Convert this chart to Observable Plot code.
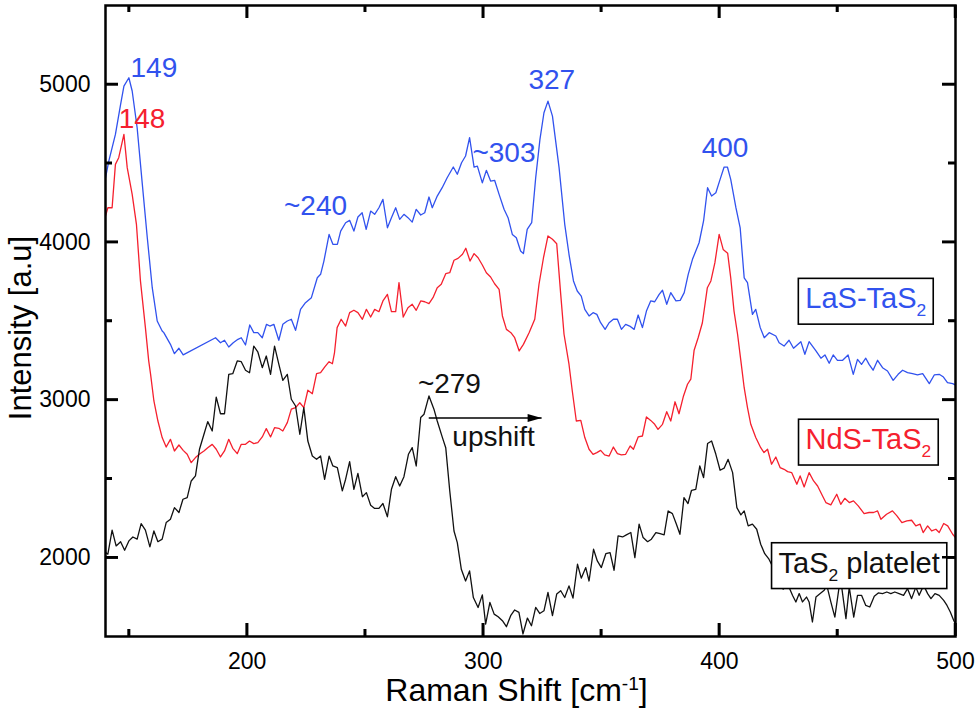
<!DOCTYPE html>
<html>
<head>
<meta charset="utf-8">
<script src="https://cdn.jsdelivr.net/npm/d3@7"></script>
<script src="https://cdn.jsdelivr.net/npm/@observablehq/plot@0.6"></script>
<style>
  html, body { margin: 0; padding: 0; background: #fff; overflow: hidden; }
  #chart svg { display: block; }
</style>
</head>
<body>
<div id="chart"></div>
<script>
// ---------- data: [Raman shift (cm-1), intensity (a.u.)] ----------
const lasTaS2 = [[140,4408],[141.4,4514],[144.2,4683],[146.4,4873],[147.8,4989],[149.9,5042],[151.3,4958],[153.4,4725],[155.6,4366],[157.7,4028],[159.8,3711],[161.9,3500],[164.0,3437],[164.7,3426],[167.5,3352],[169.2,3293],[171.1,3327],[172.9,3285],[186.6,3394],[188.7,3362],[190.4,3378],[192.2,3335],[194.1,3362],[196.1,3384],[197.5,3394],[199.3,3348],[201.1,3475],[202.8,3426],[204.5,3426],[206.4,3394],[208.2,3479],[209.6,3468],[211.3,3479],[213.4,3378],[215.1,3479],[217.0,3500],[218.7,3511],[220.5,3441],[222.6,3574],[224.7,3616],[227.2,3648],[229.7,3774],[231.1,3796],[232.5,3880],[234.7,4049],[236.3,3986],[238.2,3986],[239.6,4070],[241.7,4123],[243.4,4138],[245.2,4070],[246.9,4159],[248.7,4186],[250.4,4081],[252.3,4197],[254.0,4176],[255.8,4218],[257.5,4271],[259.4,4091],[261.1,4155],[262.9,4218],[264.6,4144],[266.4,4176],[268.1,4155],[269.9,4127],[271.6,4208],[273.5,4172],[275.2,4186],[277.0,4286],[278.4,4218],[280.5,4292],[282.6,4345],[284.7,4408],[287.3,4476],[289.0,4430],[290.8,4503],[292.5,4546],[294.2,4662],[296.1,4476],[297.5,4482],[299.6,4376],[301.3,4455],[303.1,4387],[304.8,4392],[306.7,4303],[308.8,4208],[310.5,4155],[312.3,4049],[314.0,4028],[315.8,3944],[317.0,3927],[318.6,4081],[320.5,4123],[322.2,4408],[324.0,4651],[325.7,4820],[327.4,4894],[329.3,4799],[332.1,4472],[334.5,4113],[336.3,3923],[338.2,3754],[339.8,3690],[341.5,3658],[343.0,3574],[344.8,3532],[346.5,3553],[348.1,3542],[349.7,3489],[351.6,3447],[353.3,3489],[355.1,3511],[356.8,3511],[358.5,3447],[360.3,3479],[362.0,3468],[363.9,3447],[365.6,3538],[367.4,3458],[369.1,3563],[370.9,3627],[372.6,3622],[374.5,3669],[375.9,3695],[377.7,3606],[379.4,3680],[381.6,3627],[383.4,3631],[385.1,3680],[386.8,3796],[388.6,3891],[391.4,3996],[393.3,4134],[395.0,4345],[396.7,4292],[398.5,4313],[400.3,4398],[402.0,4476],[403.4,4476],[404.8,4398],[407.0,4218],[408.8,4091],[410.5,3774],[411.9,3743],[414.0,3542],[415.4,3574],[417.3,3458],[419.0,3394],[421.1,3426],[423.9,3405],[425.3,3362],[427.4,3341],[429.5,3378],[431.4,3327],[434.5,3369],[436.2,3289],[438.0,3369],[440.9,3310],[443.0,3264],[444.7,3285],[446.5,3232],[448.2,3285],[450.0,3251],[452.2,3251],[454.5,3285],[456.7,3162],[458.5,3257],[460.2,3225],[462.0,3264],[463.4,3225],[465.1,3188],[467.0,3251],[469.1,3204],[471.2,3183],[473.6,3124],[475.7,3162],[477.6,3188],[479.7,3173],[481.8,3166],[483.9,3158],[486.1,3166],[488.9,3103],[491.0,3158],[493.1,3162],[494.9,3145],[496.6,3109],[498.8,3103],[500,3094]];

const ndsTaS2 = [[140,4165],[141,4218],[142.8,4218],[144.2,4493],[145.6,4535],[147.8,4683],[149.2,4472],[151.3,4303],[153.1,4113],[154.8,3754],[156.9,3458],[158.3,3247],[159.1,3162],[160.5,2993],[162.2,2866],[164.0,2761],[165.7,2701],[167.5,2750],[169.2,2676],[171.1,2714],[172.9,2680],[174.6,2655],[176.3,2602],[178.1,2634],[180.0,2659],[181.7,2676],[183.3,2697],[185.2,2718],[186.9,2687],[188.7,2638],[190.4,2676],[192.2,2750],[193.9,2693],[195.8,2659],[197.5,2718],[199.3,2718],[201.0,2739],[202.8,2723],[204.5,2729],[206.4,2765],[208.1,2818],[209.9,2765],[211.6,2824],[213.4,2820],[215.1,2803],[217.0,2856],[218.7,2941],[220.5,2951],[222.3,2982],[224.0,2951],[225.7,3061],[227.6,3039],[229.4,3166],[231.1,3172],[232.8,3208],[234.7,3242],[236.1,3229],[237.0,3300],[238.1,3458],[239.8,3511],[241.7,3468],[243.4,3553],[245.2,3568],[246.9,3553],[248.8,3511],[250.5,3574],[252.3,3525],[254.0,3574],[255.8,3559],[257.5,3627],[259.4,3669],[261.1,3559],[262.9,3559],[264.3,3743],[266.1,3525],[268.1,3584],[269.9,3606],[271.6,3568],[273.5,3627],[275.2,3622],[277.0,3610],[278.7,3648],[280.5,3711],[282.2,3733],[284.1,3800],[285.8,3806],[287.6,3885],[289.3,3897],[291.2,3923],[292.6,3961],[294.4,3880],[296.1,3927],[297.8,3901],[299.6,3855],[301.3,3806],[303.1,3779],[304.8,3736],[306.7,3701],[308.1,3532],[309.8,3447],[311.7,3426],[313.3,3394],[315.2,3310],[317.0,3352],[319.4,3426],[321.8,3511],[323.6,3733],[325.5,3901],[327.4,4039],[329.3,4018],[331.1,3990],[332.8,3669],[334.2,3416],[336.3,3226],[337.7,3056],[339.4,2866],[341.3,2870],[343.0,2761],[344.8,2687],[346.5,2655],[348.1,2666],[349.7,2680],[351.4,2651],[353.3,2644],[355.1,2701],[356.8,2659],[358.5,2651],[360.3,2655],[362.2,2708],[363.6,2687],[365.6,2765],[367.4,2771],[369.1,2892],[370.9,2870],[372.6,2845],[374.0,2813],[375.9,2845],[377.7,2925],[379.4,2866],[381.2,2988],[382.9,2912],[384.8,3025],[386.5,3099],[387.9,3131],[389.3,3315],[391.0,3394],[392.8,3489],[394.9,3711],[396.4,3754],[398.1,3870],[399.9,4049],[401.6,3954],[403.5,3930],[404.8,3774],[406.2,3563],[407.7,3416],[409.1,3247],[410.5,3077],[411.9,2951],[413.3,2845],[415.4,2761],[417.5,2697],[418.9,2666],[420.4,2687],[422.1,2592],[423.9,2638],[425.7,2571],[427.4,2560],[428.9,2545],[430.6,2539],[432.8,2465],[434.2,2518],[435.9,2448],[438.0,2539],[439.9,2486],[441.6,2454],[443.7,2391],[445.1,2349],[447.2,2334],[449.7,2402],[451.4,2338],[453.1,2376],[455.0,2349],[456.8,2360],[458.8,2328],[461.3,2279],[463.4,2286],[465.3,2286],[467.0,2296],[468.4,2243],[470.8,2275],[473.3,2296],[475.2,2265],[477.3,2222],[479.4,2233],[481.4,2237],[483.2,2201],[485.0,2212],[486.3,2159],[488.2,2201],[489.9,2169],[491.7,2180],[493.1,2159],[495.0,2216],[496.7,2201],[498.8,2148],[500,2127]];

const tas2Platelet = [[140,2032],[141,2022],[142.8,2174],[144.5,2074],[146.4,2101],[148.1,2047],[149.9,2106],[151.6,2131],[153.4,2117],[155.1,2216],[156.9,2174],[158.8,2068],[160.5,2169],[162.2,2101],[164.0,2117],[165.7,2222],[167.5,2243],[169.2,2317],[171.1,2286],[172.8,2370],[174.6,2380],[176.3,2486],[178.1,2518],[179.8,2687],[181.7,2782],[183.3,2862],[185.2,2803],[186.9,3018],[188.7,2912],[190.4,2912],[192.2,3162],[193.9,3166],[195.8,3247],[197.5,3242],[199.3,3188],[201.0,3172],[202.8,3341],[204.5,3305],[206.4,3204],[208.1,3278],[209.9,3162],[211.6,3341],[213.4,3226],[215.1,3124],[217.0,3162],[218.7,3004],[220.5,2961],[222.3,2782],[224.0,2951],[225.7,2739],[227.6,2644],[229.4,2623],[231.1,2644],[232.8,2496],[234.7,2644],[236.3,2581],[238.2,2571],[240.3,2423],[241.7,2497],[243.4,2608],[245.2,2433],[246.9,2534],[248.8,2386],[250.5,2412],[252.3,2332],[254.0,2312],[255.8,2312],[257.5,2343],[259.4,2259],[261.1,2433],[262.9,2513],[264.6,2454],[266.4,2513],[268.3,2655],[269.9,2697],[271.6,2581],[273.5,2888],[274.9,2909],[277.0,3025],[279.1,2941],[280.5,2866],[282.7,2761],[284.1,2697],[285.8,2423],[287.6,2169],[289.0,2095],[290.7,1926],[292.5,1852],[294.2,1916],[295.8,1747],[297.8,1684],[299.6,1764],[301.0,1578],[302.8,1716],[304.6,1642],[306.3,1625],[308.1,1600],[309.8,1562],[311.6,1632],[313.3,1668],[315.1,1653],[316.8,1516],[318.7,1617],[320.4,1568],[322.2,1684],[323.9,1646],[325.7,1663],[327.4,1779],[329.3,1632],[331.1,1769],[332.8,1790],[334.5,1747],[336.3,1821],[338.0,1743],[339.9,1958],[341.5,1870],[343.4,1937],[344.8,1852],[346.7,2053],[348.3,1979],[350.0,1937],[351.9,2025],[353.7,2032],[355.4,1920],[357.1,2138],[359.0,2131],[360.6,2144],[362.5,2159],[364.2,2000],[366.0,2212],[367.7,2127],[369.6,2101],[371.2,2117],[373.1,2159],[374.9,2152],[376.6,2144],[378.3,2296],[380.1,2279],[381.8,2212],[383.3,2148],[385.0,2380],[386.7,2343],[388.2,2427],[390.0,2433],[391.7,2581],[393.3,2507],[395.0,2723],[396.7,2739],[398.5,2655],[400.3,2554],[402.0,2567],[403.7,2623],[405.6,2539],[407.4,2317],[409.1,2271],[410.5,2296],[412.2,2201],[414.0,2212],[415.8,2180],[417.5,2085],[419.2,2025],[421.0,1990],[423.0,1930],[425.0,1860],[427.0,1800],[429.0,1830],[431.0,1760],[432.4,1719],[433.8,1772],[435.2,1719],[436.9,1750],[438.0,1719],[439.4,1592],[440.9,1750],[442.7,1772],[444.4,1793],[445.5,1824],[447.2,1719],[448.9,1623],[450.7,1813],[451.7,1824],[453.6,1613],[455.0,1813],[456.9,1623],[458.5,1761],[460.2,1761],[462.0,1697],[463.7,1687],[465.6,1755],[467.3,1776],[469.1,1772],[470.9,1782],[472.6,1772],[474.3,1782],[476.1,1772],[478.0,1761],[479.7,1803],[481.4,1740],[483.2,1813],[484.6,1761],[486.5,1824],[488.2,1772],[489.6,1740],[491.3,1772],[493.1,1761],[495.0,1729],[496.4,1697],[497.8,1655],[499.3,1600],[500,1579]];

const xMajorTicks = [200, 300, 400, 500];
const xMinorTicks = [150, 250, 350, 450];
const yMajorTicks = [2000, 3000, 4000, 5000];
const yMinorTicks = [2500, 3500, 4500];

// peak labels (text, Raman shift, intensity)
const peakLabels = [
  {label: "149",  x: 150.6, y: 5103, series: "LaS"},
  {label: "148",  x: 145.6, y: 4778, series: "NdS"},
  {label: "~240", x: 215.6, y: 4226, series: "LaS"},
  {label: "~303", x: 295.4, y: 4567, series: "LaS"},
  {label: "327",  x: 319.1, y: 5028, series: "LaS"},
  {label: "400",  x: 392.5, y: 4598, series: "LaS"},
  {label: "~279", x: 272.3, y: 3099, series: "TaS"},
  {label: "upshift", x: 286.9, y: 2762, series: "TaS"}
];
const upshiftArrow = [{x1: 276.9, x2: 324.7, y: 2885}];
const seriesNames = [
  {label: "LaS-TaS_{2}", x: 462, y: 3639, series: "LaS"},
  {label: "NdS-TaS_{2}", x: 463.1, y: 2746, series: "NdS"},
  {label: "TaS_{2} platelet", x: 459.2, y: 1963, series: "TaS"}
];

// ---------- layout & styles ----------
const WIDTH = 978, HEIGHT = 712;
const M = {left: 105, right: 23, top: 5, bottom: 76};
const FW = WIDTH - M.left - M.right, FH = HEIGHT - M.top - M.bottom;
const MAJ = 13, MIN = 7;
const COLORS = {LaS: "#3152ee", NdS: "#f5202e", TaS: "#111111"};
const rows = pts => pts.map(([x, y]) => ({x, y}));
const arrowHead = {draw(ctx) { ctx.moveTo(0, 0); ctx.lineTo(-14, -4); ctx.lineTo(-14, 4); ctx.closePath(); }};

const tickStyle = {stroke: "#000000", strokeWidth: 2.5};
const ticksX = (values, len) => [
  Plot.ruleX(values, {...tickStyle, insetTop: FH - len}),
  Plot.ruleX(values, {...tickStyle, insetBottom: FH - len})
];
const ticksY = (values, len) => [
  Plot.ruleY(values, {...tickStyle, insetRight: FW - len}),
  Plot.ruleY(values, {...tickStyle, insetLeft: FW - len})
];

const chart = Plot.plot({
  width: WIDTH,
  height: HEIGHT,
  marginLeft: M.left,
  marginRight: M.right,
  marginTop: M.top,
  marginBottom: M.bottom,
  style: {fontFamily: "'Liberation Sans', Arial, sans-serif", background: "white", color: "black"},
  x: {domain: [140, 500]},
  y: {domain: [1500, 5500]},
  color: {type: "identity"},
  marks: [
    Plot.line(rows(lasTaS2), {x: "x", y: "y", stroke: COLORS.LaS, strokeWidth: 1.3, clip: true}),
    Plot.line(rows(ndsTaS2), {x: "x", y: "y", stroke: COLORS.NdS, strokeWidth: 1.3, clip: true}),
    Plot.line(rows(tas2Platelet), {x: "x", y: "y", stroke: COLORS.TaS, strokeWidth: 1.3, clip: true}),

    // tick labels
    Plot.axisX({anchor: "bottom", ticks: xMajorTicks, tickSize: 0, tickPadding: 16, fontSize: 23, label: null, tickFormat: d => String(d)}),
    Plot.axisY({anchor: "left", ticks: yMajorTicks, tickSize: 0, tickPadding: 15, fontSize: 23, label: null, tickFormat: d => String(d)}),
    // inward ticks on all four sides
    ...ticksX(xMajorTicks, MAJ),
    ...ticksX(xMinorTicks, MIN),
    ...ticksY(yMajorTicks, MAJ),
    ...ticksY(yMinorTicks, MIN),
    Plot.frame({stroke: "black", strokeWidth: 2.5}),

    Plot.text(peakLabels, {x: "x", y: "y", text: "label", fill: d => COLORS[d.series], textAnchor: "start", lineAnchor: "middle", fontSize: 28}),
    Plot.link(upshiftArrow, {x1: "x1", x2: "x2", y1: "y", y2: "y", stroke: "black", strokeWidth: 1.6}),
    Plot.dot(upshiftArrow, {x: "x2", y: "y", symbol: arrowHead, fill: "black", stroke: "none", r: 5}),

    Plot.text(seriesNames, {x: "x", y: "y", text: "label", fill: d => COLORS[d.series], textAnchor: "middle", lineAnchor: "middle", fontSize: 29}),

    Plot.text(["Raman Shift [cm^{-1}]"], {frameAnchor: "bottom", textAnchor: "middle", dx: -14, dy: 54, fontSize: 32, lineAnchor: "middle"}),
    Plot.text(["Intensity [a.u]"], {frameAnchor: "left", textAnchor: "middle", rotate: -90, dx: -84, dy: 7, fontSize: 31, lineAnchor: "middle"})
  ]
});

document.getElementById("chart").appendChild(chart);
const svgEl = chart.tagName.toLowerCase() === "svg" ? chart : chart.querySelector("svg");

// the same inward ticks again as one explicit path through Plot's scales (drawn on top)
(function drawTicks() {
  const sx = chart.scale("x"), sy = chart.scale("y");
  const left = sx.apply(140), right = sx.apply(500);
  const top = sy.apply(5500), bottom = sy.apply(1500);
  let d = "";
  const addX = (vals, len) => vals.forEach(v => {
    const px = sx.apply(v);
    d += `M${px},${bottom}V${bottom - len}M${px},${top}V${top + len}`;
  });
  const addY = (vals, len) => vals.forEach(v => {
    const py = sy.apply(v);
    d += `M${left},${py}H${left + len}M${right},${py}H${right - len}`;
  });
  addX(xMajorTicks, MAJ); addX(xMinorTicks, MIN);
  addY(yMajorTicks, MAJ); addY(yMinorTicks, MIN);
  d3.select(svgEl).append("path").attr("d", d).attr("fill", "none")
    .attr("stroke", "#000000").attr("stroke-width", 2.5);
})();

// rich text: ^{..} superscript, _{..} subscript
function richify(svg) {
  const out = [];
  svg.querySelectorAll("text").forEach(el => {
    const raw = el.textContent;
    if (!/[\^_]\{/.test(raw)) return;
    const fs = parseFloat(getComputedStyle(el).fontSize) || 20;
    el.textContent = "";
    raw.split(/([\^_]\{[^}]*\})/).forEach(part => {
      if (!part) return;
      const m = part.match(/^([\^_])\{([^}]*)\}$/);
      const ts = document.createElementNS("http://www.w3.org/2000/svg", "tspan");
      ts.textContent = m ? m[2] : part;
      if (m) {
        ts.setAttribute("font-size", (fs * 0.6).toFixed(1));
        ts.setAttribute("baseline-shift", m[1] === "^" ? (fs * 0.33).toFixed(1) : (-fs * 0.27).toFixed(1));
      }
      el.appendChild(ts);
    });
    out.push([el, raw]);
  });
  return out;
}
const rich = richify(svgEl);
const boxed = new Set(seriesNames.map(d => d.label));
rich.forEach(([el, raw]) => {
  if (!boxed.has(raw)) return;
  const b = el.getBBox();
  const r = document.createElementNS("http://www.w3.org/2000/svg", "rect");
  r.setAttribute("x", b.x - 7);
  r.setAttribute("y", b.y - 4);
  r.setAttribute("width", b.width + 14);
  r.setAttribute("height", b.height + 8);
  if (el.getAttribute("transform")) r.setAttribute("transform", el.getAttribute("transform"));
  r.setAttribute("fill", "white");
  r.setAttribute("stroke", "black");
  r.setAttribute("stroke-width", 1.6);
  el.parentNode.insertBefore(r, el);
});
</script>
</body>
</html>
